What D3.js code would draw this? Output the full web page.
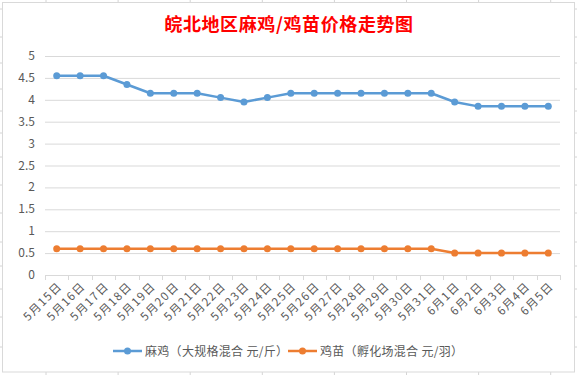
<!DOCTYPE html>
<html lang="zh">
<head>
<meta charset="utf-8">
<title>皖北地区麻鸡/鸡苗价格走势图</title>
<script src="https://d3js.org/d3.v7.min.js"></script>
<style>
  body { margin: 0; background: #fff; }
  text { font-family: "Noto Sans CJK SC", "Noto Sans", sans-serif; }
</style>
</head>
<body>
<script>
// data
var dates = ["5月15日","5月16日","5月17日","5月18日","5月19日","5月20日","5月21日","5月22日",
             "5月23日","5月24日","5月25日","5月26日","5月27日","5月28日","5月29日","5月30日",
             "5月31日","6月1日","6月2日","6月3日","6月4日","6月5日"];
var maji = [4.55,4.55,4.55,4.35,4.15,4.15,4.15,4.05,3.95,4.05,4.15,4.15,4.15,4.15,4.15,4.15,
            4.15,3.95,3.85,3.85,3.85,3.85];
var jimiao = [0.6,0.6,0.6,0.6,0.6,0.6,0.6,0.6,0.6,0.6,0.6,0.6,0.6,0.6,0.6,0.6,
              0.6,0.5,0.5,0.5,0.5,0.5];
var yTicks = [0,0.5,1,1.5,2,2.5,3,3.5,4,4.5,5];
var seriesNames = ["麻鸡（大规格混合 元/斤）", "鸡苗（孵化场混合 元/羽）"];
var colors = ["#5B9BD5", "#ED7D31"];

var w = 577, h = 375;
var plotLeft = 45, plotRight = 560, plotTop = 56, plotBottom = 275;

var svg = d3.select("body").append("svg")
    .attr("width", w)
    .attr("height", h);

// spreadsheet grid stubs behind the chart
var colStubs = d3.range(8).map(function(i) { return 46 + i * 72.1; });
var rowStubs = [9,37,63,89,111,133,157,185,213,242,266,289,317,347];
svg.selectAll("line.cs").data(colStubs).enter().append("line")
   .attr("x1", function(d) { return d; }).attr("x2", function(d) { return d; })
   .attr("y1", 0).attr("y2", 3).attr("stroke", "#d4d4d4");
svg.selectAll("line.cb").data(colStubs).enter().append("line")
   .attr("x1", function(d) { return d; }).attr("x2", function(d) { return d; })
   .attr("y1", 372).attr("y2", 375).attr("stroke", "#d4d4d4");
svg.selectAll("line.rs").data(rowStubs).enter().append("line")
   .attr("x1", 0).attr("x2", 3)
   .attr("y1", function(d) { return d; }).attr("y2", function(d) { return d; })
   .attr("stroke", "#d4d4d4");
svg.selectAll("line.rr").data(rowStubs).enter().append("line")
   .attr("x1", 575).attr("x2", 577)
   .attr("y1", function(d) { return d; }).attr("y2", function(d) { return d; })
   .attr("stroke", "#d4d4d4");

// chart frame
svg.append("rect")
   .attr("x", 2.5).attr("y", 2.5)
   .attr("width", 572).attr("height", 369.5)
   .attr("fill", "#fff")
   .attr("stroke", "#d9d9d9");

// title
svg.append("text")
   .attr("x", 289).attr("y", 31)
   .attr("text-anchor", "middle")
   .attr("font-size", "18px")
   .attr("font-weight", "bold")
   .attr("letter-spacing", "0.6px")
   .attr("fill", "#ff0000")
   .text("皖北地区麻鸡/鸡苗价格走势图");

var x = d3.scaleBand().domain(dates).range([plotLeft, plotRight]);
var y = d3.scaleLinear().domain([0, 5]).range([plotBottom, plotTop]);

// gridlines
svg.append("g")
   .attr("transform", "translate(" + plotLeft + ",0)")
   .call(d3.axisLeft(y).tickValues(yTicks).tickSize(-(plotRight - plotLeft)).tickFormat(""))
   .call(function(g) {
       g.select(".domain").remove();
       g.selectAll("line").attr("stroke", "#d9d9d9");
   });

// y labels
svg.selectAll("text.ylab").data(yTicks).enter().append("text")
   .attr("class", "ylab")
   .attr("x", 35)
   .attr("y", function(d) { return y(d) + 4; })
   .attr("text-anchor", "end")
   .attr("font-size", "12px")
   .attr("fill", "#595959")
   .text(function(d) { return d; });

// x axis with ticks between categories
svg.append("line")
   .attr("x1", plotLeft).attr("x2", plotRight)
   .attr("y1", plotBottom + 0.5).attr("y2", plotBottom + 0.5)
   .attr("stroke", "#d9d9d9");
var edges = dates.map(function(d) { return x(d); }).concat([plotRight]);
svg.selectAll("line.xt").data(edges).enter().append("line")
   .attr("x1", function(d) { return Math.round(d) + 0.5; })
   .attr("x2", function(d) { return Math.round(d) + 0.5; })
   .attr("y1", plotBottom).attr("y2", plotBottom + 5)
   .attr("stroke", "#d9d9d9");

svg.selectAll("text.xlab").data(dates).enter().append("text")
   .attr("class", "xlab")
   .attr("text-anchor", "end")
   .attr("font-size", "11.5px")
   .attr("letter-spacing", "1.3px")
   .attr("fill", "#595959")
   .attr("transform", function(d) {
       return "translate(" + (x(d) + x.bandwidth() / 2 + 6) + "," + (plotBottom + 12) + ") rotate(-45)";
   })
   .text(function(d) { return d; });

// series
var cx = function(d, i) { return x(dates[i]) + x.bandwidth() / 2; };
var line = d3.line().x(cx).y(function(d) { return y(d); });

[maji, jimiao].forEach(function(s, k) {
    svg.append("path")
       .datum(s)
       .attr("d", line)
       .attr("fill", "none")
       .attr("stroke", colors[k])
       .attr("stroke-width", 2.5)
       .attr("stroke-linejoin", "round");
    svg.selectAll("circle.s" + k).data(s).enter().append("circle")
       .attr("class", "s" + k)
       .attr("cx", cx)
       .attr("cy", function(d) { return y(d); })
       .attr("r", 3.5)
       .attr("fill", colors[k]);
});

// legend
var legendX = [113, 288];
seriesNames.forEach(function(name, k) {
    var g = svg.append("g").attr("transform", "translate(" + legendX[k] + ",351)");
    g.append("line").attr("x1", 0).attr("x2", 29).attr("y1", 0).attr("y2", 0)
     .attr("stroke", colors[k]).attr("stroke-width", 2.5);
    g.append("circle").attr("cx", 14.5).attr("cy", 0).attr("r", 3.5).attr("fill", colors[k]);
    g.append("text").attr("x", 32).attr("y", 4.5)
     .attr("font-size", "12px").attr("letter-spacing", "0.3px").attr("fill", "#595959")
     .text(name);
});
</script>
</body>
</html>
